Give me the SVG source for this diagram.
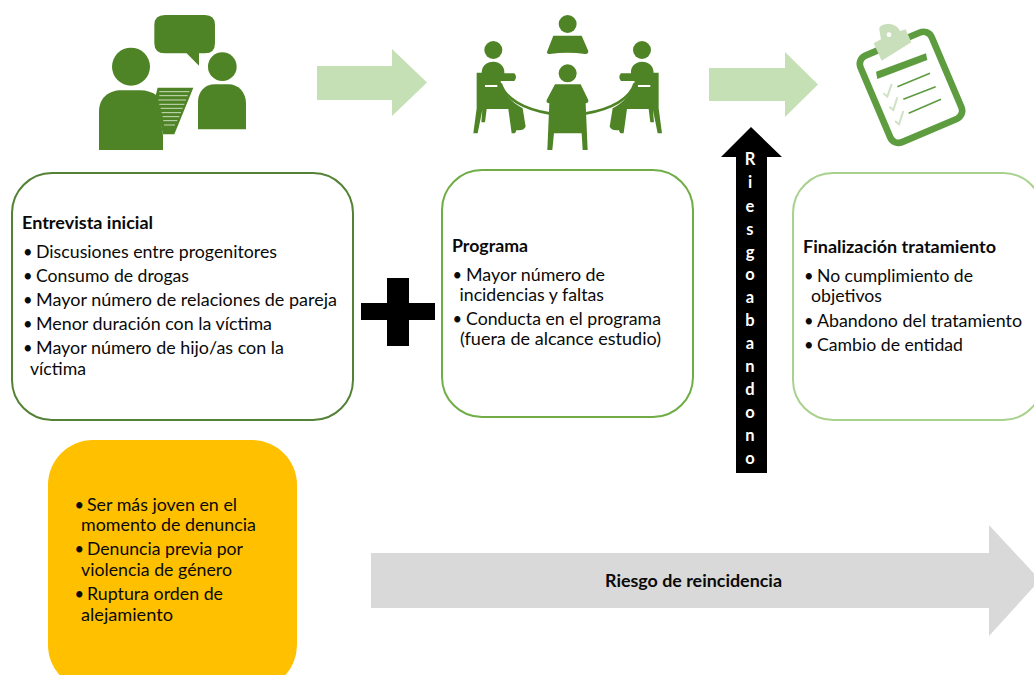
<svg xmlns="http://www.w3.org/2000/svg" width="1034" height="675" viewBox="0 0 1034 675">
<style>
text{font-family:"Lato","Open Sans","Liberation Sans",sans-serif;font-size:16.5px;fill:#0a0a0a}
.t{font-weight:700}
.box{fill:#fff;stroke-width:2}
.ic{fill:#4f8426}
.ln{fill:none;stroke:#4f8426}
.cl{fill:none;stroke:#5e9c40;stroke-linecap:butt}
.ck{fill:none;stroke:#cfe2c4;stroke-width:6}
.ga{fill:#c5e0b4}
</style>
<rect width="1034" height="675" fill="#fff"/>
<g id="connectors">
<path class="ga" d="M317,66H392V49L427,82.500L392,116V100H317Z"/>
<path class="ga" d="M709,68H785V52L818,84.500L785,117V101H709Z"/>
<path fill="#d9d9d9" d="M371,553H989V525L1040,580L989,636V608H371Z"/>
<path fill="#000" d="M736,473V157H721L751,127L782,157H767V473Z"/>
<path fill="#000" d="M387,278H409V303H435V320H409V346H387V320H361V303H387Z"/>
<text class="t" text-anchor="middle" style="fill:#fff"><tspan x="750" y="165">R</tspan><tspan x="750" y="188">i</tspan><tspan x="750" y="212">e</tspan><tspan x="750" y="235">s</tspan><tspan x="750" y="258">g</tspan><tspan x="750" y="280">o</tspan><tspan x="750" y="303">a</tspan><tspan x="750" y="326">b</tspan><tspan x="750" y="349">a</tspan><tspan x="750" y="372">n</tspan><tspan x="750" y="395">d</tspan><tspan x="750" y="418">o</tspan><tspan x="750" y="441">n</tspan><tspan x="750" y="464">o</tspan></text>
<text class="t" x="605" y="587" textLength="177" lengthAdjust="spacingAndGlyphs">Riesgo de reincidencia</text>
</g>
<g id="icon-entrevista" transform="translate(90,5) scale(.3333)">
<path class="ic" d="M225,30H345Q375,30 375,60V115Q375,145 345,145H290L327,182V145H225Q193,145 193,115V60Q193,30 225,30Z"/>
<circle class="ic" cx="123" cy="185" r="57"/>
<circle class="ic" cx="397" cy="185" r="43"/>
<path class="ic" d="M203,248H310L253,388H219L195,280Z"/>
<path d="M208,260H298M208,272H293M205,285H288M208,298H283M212,310H278M215,323H273M218,335H268M220,347H262M222,360H255" stroke="#e4eedc" stroke-width="2.500" fill="none"/>
<path class="ic" d="M27,435V320C27,280 55,256 95,256H150C170,256 188,262 201,272L219,390V435Z"/>
<path class="ic" d="M324,373V290C324,260 345,238 375,238H415C445,238 468,262 468,295V373Z"/>
</g>
<g id="icon-programa" transform="translate(460,5) scale(.3333)">
<circle class="ic" cx="323" cy="57" r="27"/>
<path class="ic" d="M280,92H365L385,138Q385,148 375,147Q323,140 270,147Q258,148 262,138Z"/>
<circle class="ic" cx="100" cy="135" r="27"/>
<path class="ic" d="M65,205C65,182 80,170 100,170C120,170 135,185 133,205H163Q173,216 163,228H122C125,265 160,295 188,310L197,365Q190,378 170,375L165,385H155L145,312H80L75,352H64L67,315L53,385H40L50,310V203H65Z"/>
<rect x="75" y="240" width="37" height="6" fill="#fff"/>
<path class="ln" stroke-width="8" d="M122,235C135,280 190,312 268,325"/>
<circle class="ic" cx="546" cy="135" r="27"/>
<g transform="translate(646,0) scale(-1,1)">
<path class="ic" d="M65,205C65,182 80,170 100,170C120,170 135,185 133,205H163Q173,216 163,228H122C125,265 160,295 188,310L197,365Q190,378 170,375L165,385H155L145,312H80L75,352H64L67,315L53,385H40L50,310V203H65Z"/>
<rect x="75" y="240" width="37" height="6" fill="#fff"/>
<path class="ln" stroke-width="8" d="M122,235C135,280 190,312 268,325"/>
</g>
<circle class="ic" cx="323" cy="205" r="27"/>
<path class="ic" d="M285,238H362L385,285Q386,295 377,295L383,435H368L365,385H282L277,435H262L268,295Q258,295 260,285Z"/>
</g>
<g id="icon-checklist" transform="translate(840,10) scale(.3333)">
<rect x="97" y="91" width="232" height="282" rx="27" fill="#fff" stroke="#5e9c40" stroke-width="20" transform="rotate(-23 213 232)"/>
<path fill="#c9dfbc" d="M118,60Q115,43 145,41Q172,43 180,63L197,58L214,97L125,152L101,100L123,88Z"/>
<circle cx="147" cy="74" r="7" fill="#fff"/>
<path fill="#5e9c40" d="M108,185L258,130L262,150L112,207Z"/>
<path class="cl" stroke-width="5" d="M172,230L270,190M190,268L287,230M206,310L303,268"/>
<path class="ck" d="M130,250L142,260L155,222M148,290L160,300L172,262M165,333L177,343L190,303"/>
</g>
<g id="node-entrevista">
<rect class="box" x="12" y="173" width="341" height="247" rx="40" stroke="#538135"/>
<text class="t" x="22" y="229" textLength="131" lengthAdjust="spacingAndGlyphs">Entrevista inicial</text>
<text y="258"><tspan x="23">• </tspan><tspan x="36" textLength="241" lengthAdjust="spacingAndGlyphs">Discusiones entre progenitores</tspan></text>
<text y="282"><tspan x="23">• </tspan><tspan x="36" textLength="153" lengthAdjust="spacingAndGlyphs">Consumo de drogas</tspan></text>
<text y="306"><tspan x="23">• </tspan><tspan x="36" textLength="301" lengthAdjust="spacingAndGlyphs">Mayor número de relaciones de pareja</tspan></text>
<text y="330"><tspan x="23">• </tspan><tspan x="36" textLength="236" lengthAdjust="spacingAndGlyphs">Menor duración con la víctima</tspan></text>
<text y="354"><tspan x="23">• </tspan><tspan x="36" textLength="248" lengthAdjust="spacingAndGlyphs">Mayor número de hijo/as con la</tspan></text>
<text x="30" y="375" textLength="56" lengthAdjust="spacingAndGlyphs">víctima</text>
</g>
<g id="node-programa">
<rect class="box" x="442" y="170" width="251" height="247" rx="40" stroke="#70ad47"/>
<text class="t" x="452" y="252" textLength="76" lengthAdjust="spacingAndGlyphs">Programa</text>
<text y="281"><tspan x="452.500">• </tspan><tspan x="466" textLength="139" lengthAdjust="spacingAndGlyphs">Mayor número de</tspan></text>
<text x="459.500" y="301" textLength="144.500" lengthAdjust="spacingAndGlyphs">incidencias y faltas</text>
<text y="325"><tspan x="452.500">• </tspan><tspan x="466" textLength="195" lengthAdjust="spacingAndGlyphs">Conducta en el programa</tspan></text>
<text x="460" y="345" textLength="201" lengthAdjust="spacingAndGlyphs">(fuera de alcance estudio)</text>
</g>
<g id="node-finalizacion">
<rect class="box" x="793" y="173" width="250" height="247" rx="40" stroke="#a9d18e"/>
<text class="t" x="803" y="253" textLength="193" lengthAdjust="spacingAndGlyphs">Finalización tratamiento</text>
<text y="282"><tspan x="804">• </tspan><tspan x="817" textLength="156" lengthAdjust="spacingAndGlyphs">No cumplimiento de</tspan></text>
<text x="811" y="302" textLength="71" lengthAdjust="spacingAndGlyphs">objetivos</text>
<text y="327"><tspan x="804">• </tspan><tspan x="817" textLength="205" lengthAdjust="spacingAndGlyphs">Abandono del tratamiento</tspan></text>
<text y="351"><tspan x="804">• </tspan><tspan x="817" textLength="146" lengthAdjust="spacingAndGlyphs">Cambio de entidad</tspan></text>
</g>
<g id="node-riesgos">
<rect x="48" y="440" width="249" height="250" rx="45" fill="#ffc000"/>
<text y="511"><tspan x="74.500">• </tspan><tspan x="87" textLength="150" lengthAdjust="spacingAndGlyphs">Ser más joven en el</tspan></text>
<text x="81" y="531" textLength="175" lengthAdjust="spacingAndGlyphs">momento de denuncia</text>
<text y="555"><tspan x="74.500">• </tspan><tspan x="87" textLength="156" lengthAdjust="spacingAndGlyphs">Denuncia previa por</tspan></text>
<text x="81" y="576" textLength="151" lengthAdjust="spacingAndGlyphs">violencia de género</text>
<text y="600"><tspan x="74.500">• </tspan><tspan x="87" textLength="136" lengthAdjust="spacingAndGlyphs">Ruptura orden de</tspan></text>
<text x="81" y="621" textLength="92" lengthAdjust="spacingAndGlyphs">alejamiento</text>
</g>
</svg>
